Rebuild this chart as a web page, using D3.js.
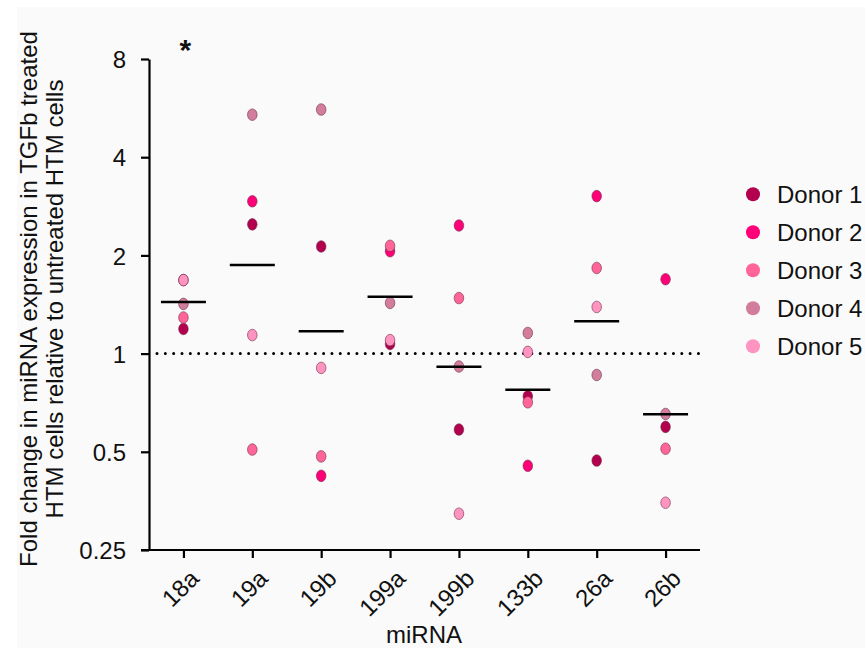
<!DOCTYPE html>
<html>
<head>
<meta charset="utf-8">
<script src="https://cdn.jsdelivr.net/npm/d3@7"></script>
<style>
  body { margin: 0; background: #ffffff; }
  text { font-family: "Liberation Sans", Arial, sans-serif; fill: #111; }
</style>
</head>
<body>
<div id="chart"></div>
<script>
// data (fold change, linear)
var mirnas = ["18a", "19a", "19b", "199a", "199b", "133b", "26a", "26b"];
var donors = ["Donor 1", "Donor 2", "Donor 3", "Donor 4", "Donor 5"];
var donorColors = ["#b3004e", "#ff0078", "#ff6598", "#d27d9c", "#ff94c1"];

var donor1 = [1.19, 2.49, 2.13, 1.07, 0.585, 0.74, 0.47, 0.596];
var donor2 = [1.68, 2.93, 0.422, 2.06, 2.47, 0.453, 3.04, 1.69];
var donor3 = [1.29, 0.508, 0.484, 2.14, 1.48, 0.709, 1.83, 0.511];
var donor4 = [1.42, 5.40, 5.60, 1.43, 0.913, 1.157, 0.86, 0.653];
var donor5 = [1.68, 1.14, 0.904, 1.10, 0.323, 1.012, 1.39, 0.349];
var series = [donor1, donor2, donor3, donor4, donor5];

var yTicks = [0.25, 0.5, 1, 2, 4, 8];
var yTickLabels = ["0.25", "0.5", "1", "2", "4", "8"];

var svgWidth = 865;
var svgHeight = 648;

var svg = d3.select("#chart")
  .append("svg")
  .attr("width", svgWidth)
  .attr("height", svgHeight);

// light grey panel
svg.append("rect")
  .attr("x", 17).attr("y", 7)
  .attr("width", svgWidth - 17).attr("height", svgHeight - 7)
  .attr("fill", "#fafafa");

var xScale = d3.scalePoint()
  .domain(mirnas)
  .range([149, 700])
  .padding(0.5);

var yScale = d3.scaleLog()
  .base(2)
  .domain([0.25, 8])
  .range([550, 59]);

// y axis
var yAxis = d3.axisLeft(yScale)
  .tickValues(yTicks)
  .tickFormat((d, i) => yTickLabels[i])
  .tickSize(8)
  .tickSizeOuter(0)
  .tickPadding(15);

var yG = svg.append("g")
  .attr("transform", "translate(149,0)")
  .call(yAxis);
yG.select(".domain").attr("stroke", "#000").attr("stroke-width", 2.2);
yG.selectAll(".tick line").attr("stroke", "#000").attr("stroke-width", 2.2);
yG.selectAll(".tick text")
  .attr("font-size", 24)
  .attr("dy", "0.36em")
  .style("font-family", "'Liberation Sans', Arial, sans-serif")
  .attr("fill", "#111");

// x axis
var xAxis = d3.axisBottom(xScale)
  .tickSize(8)
  .tickSizeOuter(0)
  .tickFormat("");

var xG = svg.append("g")
  .attr("transform", "translate(0,550)")
  .call(xAxis);
xG.select(".domain").attr("d", "M141,0H700").attr("stroke", "#000").attr("stroke-width", 2.2);
xG.selectAll(".tick line").attr("stroke", "#000").attr("stroke-width", 2.2);

// rotated category labels
svg.append("g").selectAll("text")
  .data(mirnas)
  .enter()
  .append("text")
  .attr("transform", d => `translate(${xScale(d) + 17},580) rotate(-45)`)
  .attr("text-anchor", "end")
  .attr("font-size", 24)
  .text(d => d);

// reference line at 1
svg.append("line")
  .attr("x1", 157).attr("x2", 700)
  .attr("y1", yScale(1)).attr("y2", yScale(1))
  .attr("stroke", "#000")
  .attr("stroke-width", 3)
  .attr("stroke-linecap", "round")
  .attr("stroke-dasharray", "0,8.33");

// points, one donor after the other
series.forEach(function(vals, di) {
  svg.append("g").selectAll("ellipse")
    .data(vals)
    .enter()
    .append("ellipse")
    .attr("cx", (d, i) => xScale(mirnas[i]))
    .attr("cy", d => yScale(d))
    .attr("rx", 4.8)
    .attr("ry", 5.8)
    .attr("fill", donorColors[di])
    .attr("stroke", "#6e2a48")
    .attr("stroke-opacity", 0.65)
    .attr("stroke-width", 0.9);
});

// geometric mean lines
var means = mirnas.map((m, i) => Math.pow(2, d3.mean(series, s => Math.log2(s[i]))));
svg.append("g").selectAll("line")
  .data(means)
  .enter()
  .append("line")
  .attr("x1", (d, i) => xScale(mirnas[i]) - 22.5)
  .attr("x2", (d, i) => xScale(mirnas[i]) + 22.5)
  .attr("y1", d => yScale(d))
  .attr("y2", d => yScale(d))
  .attr("stroke", "#000")
  .attr("stroke-width", 2.5);

// significance star
svg.append("text")
  .attr("x", xScale("18a") + 2)
  .attr("y", 60)
  .attr("text-anchor", "middle")
  .attr("font-size", 30)
  .attr("font-weight", "bold")
  .text("*");

// axis titles
svg.append("text")
  .attr("x", 424)
  .attr("y", 643)
  .attr("text-anchor", "middle")
  .attr("font-size", 24)
  .text("miRNA");

var yTitle = svg.append("text")
  .attr("transform", "translate(0,299) rotate(-90)")
  .attr("text-anchor", "middle")
  .attr("font-size", 24);
yTitle.append("tspan").attr("x", 0).attr("y", 37)
  .text("Fold change in miRNA expression in TGFb treated");
yTitle.append("tspan").attr("x", 0).attr("y", 63)
  .text("HTM cells relative to untreated HTM cells");

// legend
var legend = svg.append("g").selectAll("g")
  .data(donors)
  .enter()
  .append("g")
  .attr("transform", (d, i) => `translate(753,${194.3 + i * 38})`);
legend.append("circle")
  .attr("r", 7)
  .attr("fill", (d, i) => donorColors[i]);
legend.append("text")
  .attr("x", 24)
  .attr("y", 8.5)
  .attr("font-size", 24)
  .text(d => d);
</script>
</body>
</html>
